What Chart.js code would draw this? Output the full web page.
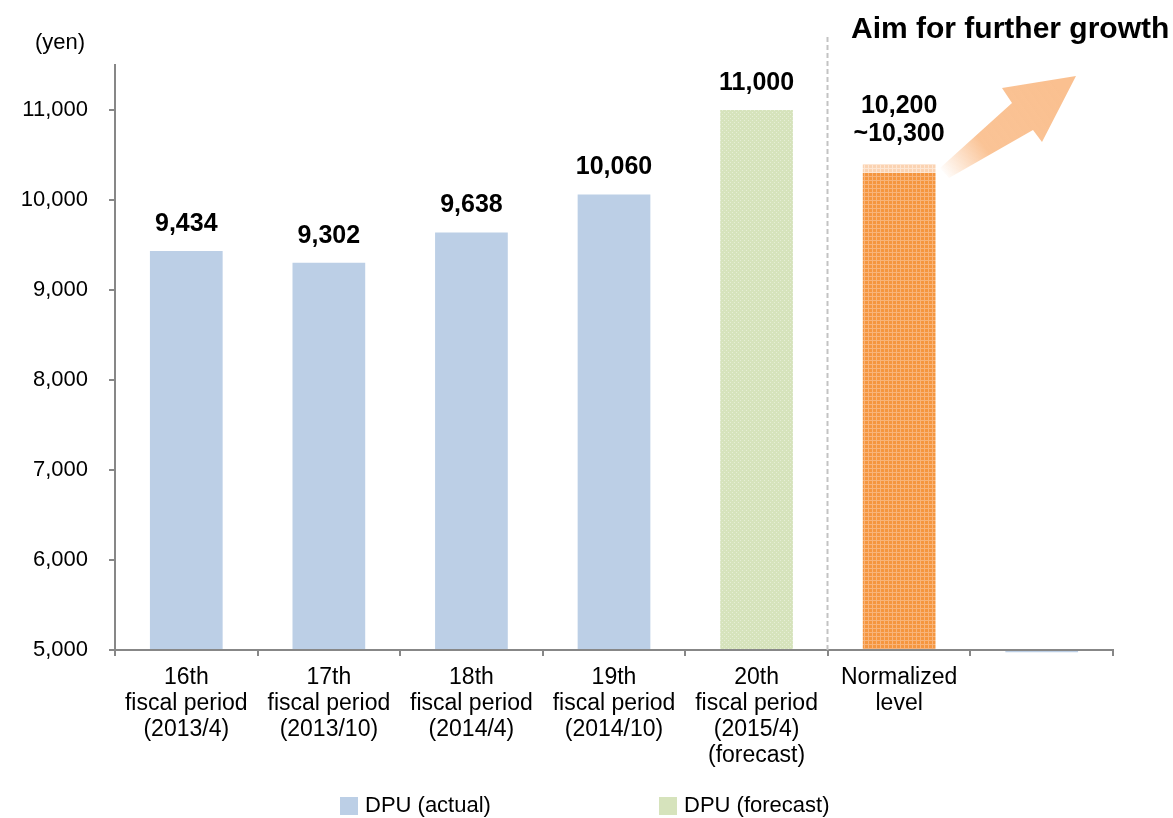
<!DOCTYPE html>
<html>
<head>
<meta charset="utf-8">
<title>DPU</title>
<script src="https://cdn.jsdelivr.net/npm/chart.js@4/dist/chart.umd.min.js"></script>
<style>
  html, body { margin: 0; padding: 0; background: #ffffff; }
  canvas { display: block; }
</style>
</head>
<body>
<canvas id="chart" width="1173" height="818"></canvas>
<script>
// ---- data ----
const categories = [
  ['16th', 'fiscal period', '(2013/4)'],
  ['17th', 'fiscal period', '(2013/10)'],
  ['18th', 'fiscal period', '(2014/4)'],
  ['19th', 'fiscal period', '(2014/10)'],
  ['20th', 'fiscal period', '(2015/4)', '(forecast)'],
  ['Normalized', 'level'],
  ''
];
const dpuActual = [9434, 9302, 9638, 10060, null, null, 4975];
const dpuForecast = [null, null, null, null, 11000, null, null];
const normalizedLevel = [null, null, null, null, null, 10300, null];
const normalizedBand = [null, null, null, null, null, [10300, 10400], null];
const normalizedLabel = ['10,200', '~10,300'];
const yTicks = [5000, 6000, 7000, 8000, 9000, 10000, 11000];
const yMin = 5000;
const yMax = 11500;
const seriesNames = ['DPU (actual)', 'DPU (forecast)', 'Normalized level', 'Normalized range'];
const headline = 'Aim for further growth';
const unitLabel = '(yen)';

// ---- styles ----
const FONT = "'Liberation Sans', Arial, Helvetica, sans-serif";
const AXIS = '#878787';
const canvas = document.getElementById('chart');
const ctx = canvas.getContext('2d');

function makePattern(base, light, size, mode) {
  const t = document.createElement('canvas');
  t.width = t.height = size;
  const g = t.getContext('2d');
  g.fillStyle = base;
  g.fillRect(0, 0, size, size);
  g.fillStyle = light;
  if (mode === 'grid') {
    g.fillRect(0, 0, size, 1);
    g.fillRect(0, 0, 1, size);
  } else {
    g.fillRect(0, 0, 1, 1);
    g.fillRect(size / 2, size / 2, 1, 1);
  }
  return ctx.createPattern(t, 'repeat');
}

const blueFill = '#BCCFE6';
const greenFill = makePattern('#D6E3BC', '#E6EED6', 4, 'dots');
const orangeFill = makePattern('#F5963F', '#F8B47A', 4, 'grid');
const peachFill = makePattern('#FBD3B2', '#FDE6D3', 4, 'grid');

// ---- plugins ----
const decorations = {
  id: 'decorations',
  beforeDatasetsDraw(chart) {
    const { ctx, scales: { x }, chartArea } = chart;
    // dashed divider between the forecast and the normalized level
    const xd = Math.round(x.getPixelForValue(4.5)) - 0.5;
    ctx.save();
    ctx.strokeStyle = '#C3C3C3';
    ctx.lineWidth = 2;
    ctx.setLineDash([5, 3]);
    ctx.beginPath();
    ctx.moveTo(xd, 37);
    ctx.lineTo(xd, chartArea.bottom);
    ctx.stroke();
    ctx.restore();
  },
  afterDraw(chart) {
    const { ctx } = chart;
    ctx.save();

    // growth arrow
    const pts = [[940, 168], [1012, 103], [1002, 88], [1076, 76], [1042, 142], [1033, 130], [949, 178]];
    const grad = ctx.createLinearGradient(942, 174, 1060, 90);
    grad.addColorStop(0, 'rgba(250,192,144,0)');
    grad.addColorStop(0.35, 'rgba(250,192,144,0.95)');
    grad.addColorStop(1, 'rgba(250,192,144,1)');
    ctx.fillStyle = grad;
    ctx.beginPath();
    pts.forEach((p, i) => (i ? ctx.lineTo(p[0], p[1]) : ctx.moveTo(p[0], p[1])));
    ctx.closePath();
    ctx.fill();

    // headline and unit
    ctx.fillStyle = '#000';
    ctx.textBaseline = 'middle';
    ctx.textAlign = 'left';
    ctx.font = 'bold 30px ' + FONT;
    ctx.fillText(headline, 851, 30);
    ctx.textAlign = 'center';
    ctx.font = '22px ' + FONT;
    ctx.fillText(unitLabel, 60, 43);

    // value labels
    ctx.font = 'bold 25px ' + FONT;
    chart.data.datasets.forEach((ds, di) => {
      if (di > 1) return;
      const meta = chart.getDatasetMeta(di);
      ds.data.forEach((v, i) => {
        if (v == null || v < yMin) return;
        const bar = meta.data[i];
        ctx.fillText(v.toLocaleString('en-US'), bar.x, bar.y - 27);
      });
    });
    const band = chart.getDatasetMeta(3).data[5];
    ctx.fillText(normalizedLabel[0], band.x, band.y - 58);
    ctx.fillText(normalizedLabel[1], band.x, band.y - 30);

    // legend
    const items = [
      { label: seriesNames[0], color: '#BCCFE6', x: 340 },
      { label: seriesNames[1], color: '#D6E3BC', x: 659 }
    ];
    ctx.textAlign = 'left';
    ctx.font = '22px ' + FONT;
    items.forEach(it => {
      ctx.fillStyle = it.color;
      ctx.fillRect(it.x, 797, 18, 18);
      ctx.fillStyle = '#000';
      ctx.fillText(it.label, it.x + 25, 806);
    });
    ctx.restore();
  }
};

// ---- chart ----
Chart.defaults.font.family = FONT;
Chart.defaults.color = '#000';

new Chart(ctx, {
  type: 'bar',
  data: {
    labels: categories,
    datasets: [
      { label: seriesNames[0], data: dpuActual, backgroundColor: blueFill, clip: false },
      { label: seriesNames[1], data: dpuForecast, backgroundColor: greenFill },
      { label: seriesNames[2], data: normalizedLevel, backgroundColor: orangeFill },
      { label: seriesNames[3], data: normalizedBand, backgroundColor: peachFill }
    ]
  },
  options: {
    responsive: false,
    devicePixelRatio: 1,
    animation: false,
    layout: { padding: { top: 65, right: 60, left: 0, bottom: 0 } },
    datasets: {
      bar: { grouped: false, base: yMin, barPercentage: 0.51, categoryPercentage: 1.0, borderWidth: 0 }
    },
    plugins: {
      legend: { display: false },
      title: { display: false },
      tooltip: { enabled: false }
    },
    scales: {
      x: {
        z: 1,
        grid: { display: true, drawOnChartArea: false, offset: true, tickLength: 6, color: AXIS, lineWidth: 2 },
        border: { display: true, color: AXIS, width: 2 },
        ticks: { font: { size: 23, lineHeight: 1.13 }, padding: 9, maxRotation: 0, autoSkip: false },
        afterFit(s) { s.height = 168; }
      },
      y: {
        min: yMin,
        max: yMax,
        grid: { display: true, drawOnChartArea: false, tickLength: 6, color: AXIS, lineWidth: 2 },
        border: { display: true, color: AXIS, width: 2 },
        ticks: {
          font: { size: 22 },
          padding: 21,
          callback: v => v.toLocaleString('en-US')
        },
        afterBuildTicks(s) { s.ticks = yTicks.map(v => ({ value: v })); },
        afterFit(s) { s.width = 115; }
      }
    }
  },
  plugins: [decorations]
});
</script>
</body>
</html>
